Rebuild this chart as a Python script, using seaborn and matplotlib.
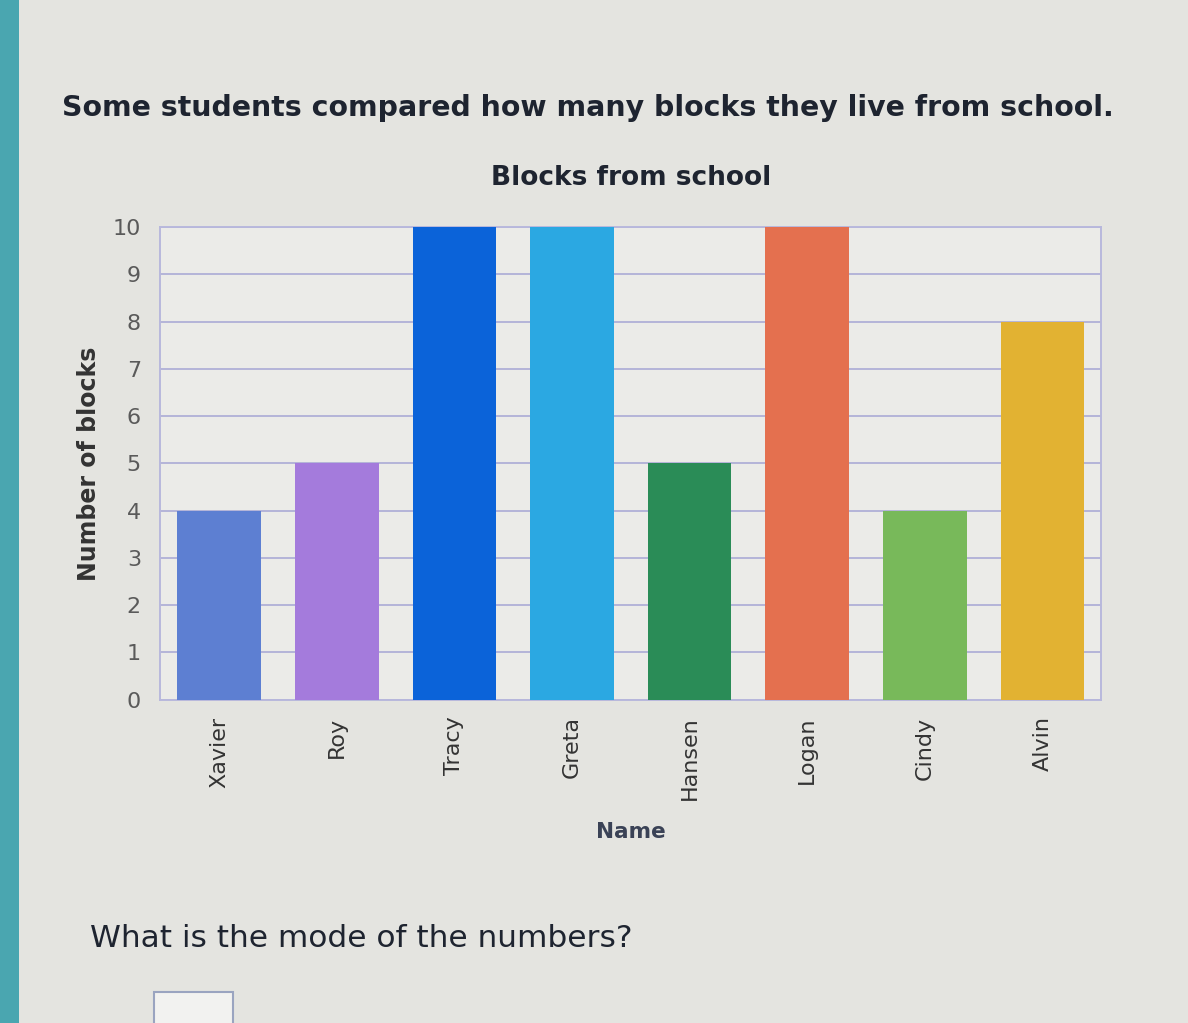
import matplotlib
matplotlib.use("Agg")
import matplotlib.pyplot as plt
import seaborn as sns
import pandas as pd
from matplotlib.patches import Rectangle

names = ["Xavier", "Roy", "Tracy", "Greta", "Hansen", "Logan", "Cindy", "Alvin"]
blocks = [4, 5, 10, 10, 5, 10, 4, 8]
colors = ["#5d7fd2", "#a47bdc", "#0b63d9", "#2ba8e2", "#2a8c57", "#e4704f", "#78b95a", "#e2b232"]
y_ticks = list(range(0, 11))

sns.set_theme(style="white")
plt.rcParams['font.family'] = ['DejaVu Sans']

df = pd.DataFrame({"Name": names, "Blocks": blocks})

fig = plt.figure(figsize=(11.88, 10.23), dpi=100)
fig.patch.set_facecolor("#e4e4e0")
ax = fig.add_axes([0.135, 0.316, 0.792, 0.462])
ax.set_facecolor("#ebebe8")

sns.barplot(data=df, x="Name", y="Blocks", hue="Name", palette=colors,
            width=0.71, legend=False, ax=ax, saturation=1, zorder=3,
            linewidth=0, edgecolor="none")

ax.set_ylim(0, 10)
ax.set_yticks(y_ticks)
ax.set_xlim(-0.5, len(names) - 0.5)
ax.grid(axis="y", color="#b4b4d8", linewidth=1.4, zorder=0)
ax.set_axisbelow(True)
for s in ax.spines.values():
    s.set_color("#b8b8dc")
    s.set_linewidth(1.4)

ax.tick_params(axis="y", labelsize=16, colors="#5a5a5a", length=0, pad=14)
ax.tick_params(axis="x", labelsize=16, colors="#333333", length=0, pad=12)
for lbl in ax.get_xticklabels():
    lbl.set_rotation(90)

ax.set_xlabel("Name", fontsize=15.5, fontweight="bold", color="#3a4256", labelpad=16)
ax.set_ylabel("Number of blocks", fontsize=17, fontweight="bold", color="#333333", labelpad=8)
ax.set_title("Blocks from school", fontsize=19, fontweight="bold", color="#1e2430", pad=30)

fig.text(0.052, 0.894, "Some students compared how many blocks they live from school.",
         fontsize=20.4, fontweight="bold", color="#1e2430", ha="left", va="center")
fig.text(0.076, 0.083, "What is the mode of the numbers?",
         fontsize=22.5, color="#1e2430", ha="left", va="center")

# left screen edge strip and answer box
fig.add_artist(Rectangle((0, 0), 0.016, 1, transform=fig.transFigure,
                         facecolor="#4aa6b0", edgecolor="none"))
fig.add_artist(Rectangle((0.13, -0.01), 0.066, 0.04, transform=fig.transFigure,
                         facecolor="#f2f2f0", edgecolor="#9aa4c0", linewidth=1.5))

fig.savefig("out.png", dpi=100, facecolor=fig.get_facecolor())
